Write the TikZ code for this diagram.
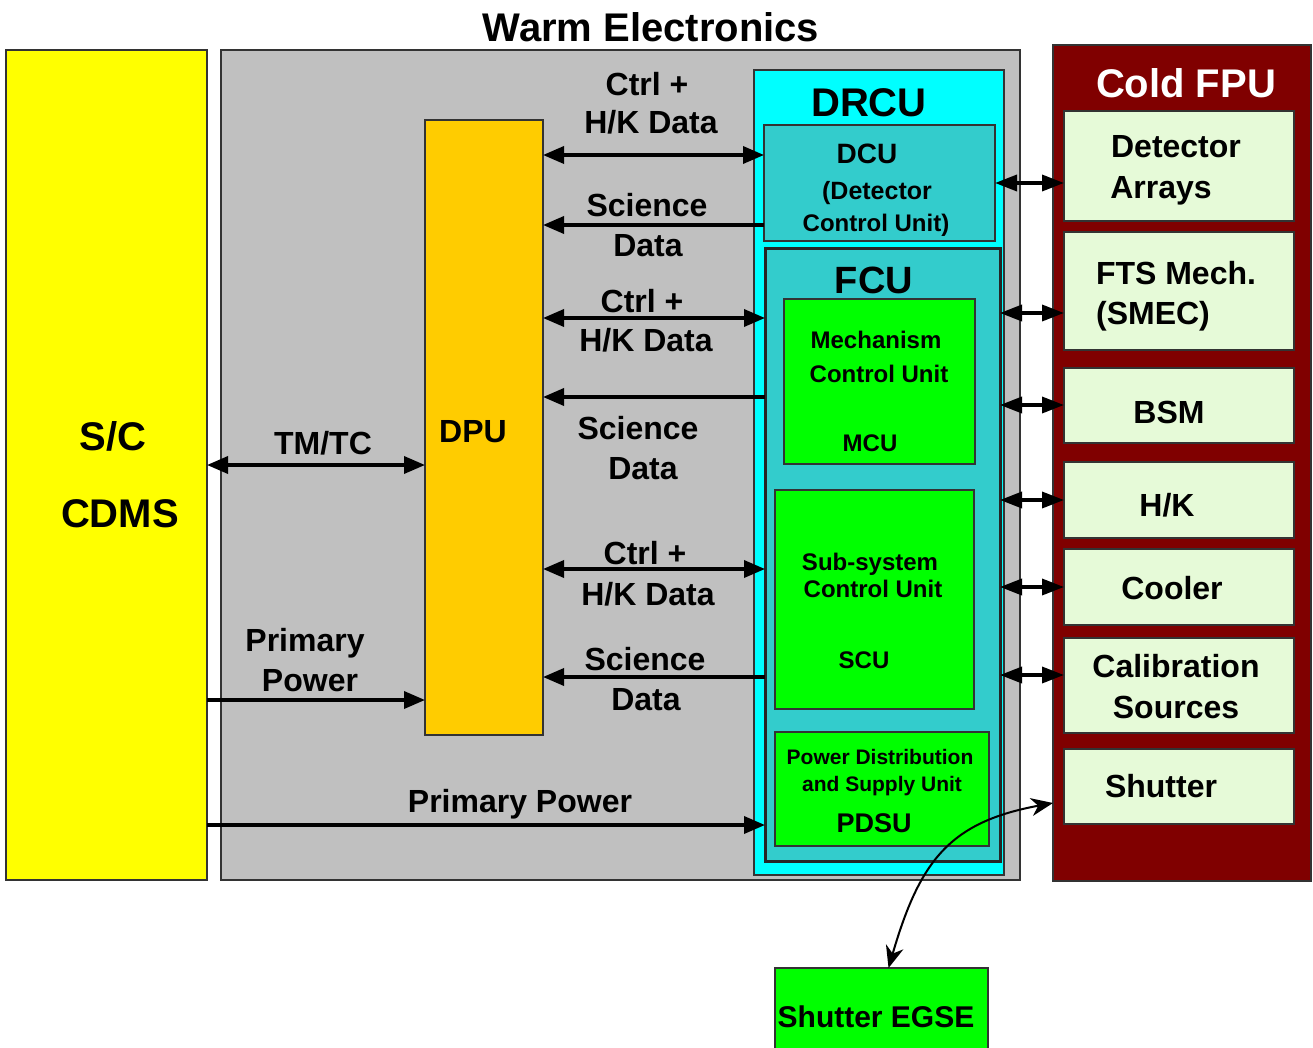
\documentclass[tikz,border=0pt]{standalone}
\usepackage{fontspec}
\setmainfont{Liberation Sans}
\usetikzlibrary{arrows.meta}
\definecolor{scyellow}{HTML}{FFFF00}
\definecolor{warmgray}{HTML}{C0C0C0}
\definecolor{dpuorange}{HTML}{FFCC00}
\definecolor{drcucyan}{HTML}{00FFFF}
\definecolor{teal}{HTML}{33CCCC}
\definecolor{unitgreen}{HTML}{00FF00}
\definecolor{fpured}{HTML}{800000}
\definecolor{palegreen}{HTML}{E6FAD8}
\definecolor{edge}{HTML}{333333}
\begin{document}
\begin{tikzpicture}[x=1pt,y=-1pt,
  blk/.style={anchor=north west, inner sep=0pt, outer sep=0pt, draw=edge, line width=1.2pt},
  lbl/.style={anchor=base, inner sep=0pt, font=\bfseries\fontsize{32}{36}\selectfont},
  big/.style={lbl, font=\bfseries\fontsize{40}{44}\selectfont},
  small/.style={lbl, font=\bfseries\fontsize{24}{28}\selectfont},
  tiny/.style={lbl, font=\bfseries\fontsize{21}{25}\selectfont},
  arr/.style={line width=3.5pt, -{Triangle[length=21pt,width=17pt]}},
  dbl/.style={line width=3.5pt, {Triangle[length=21pt,width=17pt]}-{Triangle[length=21pt,width=17pt]}},
  rdbl/.style={line width=3.5pt, {Triangle[length=22pt,width=16pt]}-{Triangle[length=22pt,width=16pt]}},
  curv/.style={line width=2pt, {Stealth[length=22pt,width=18pt,inset=7pt]}-{Stealth[length=22pt,width=18pt,inset=7pt]}}
]
\fill[white] (0,0) rectangle (1313,1048);
\useasboundingbox (0,0) rectangle (1313,1048);

% main blocks
\node[blk, fill=scyellow, minimum width=201pt, minimum height=830pt] (sc) at (6,50) {};
\node[blk, fill=warmgray, minimum width=799pt, minimum height=830pt] (warm) at (221,50) {};
\node[blk, fill=dpuorange, minimum width=118pt, minimum height=615pt] (dpu) at (425,120) {};
\node[blk, fill=drcucyan, minimum width=250pt, minimum height=805pt] (drcu) at (754,70) {};
\node[blk, fill=teal, minimum width=231pt, minimum height=116pt] (dcu) at (764,125) {};
\node[blk, fill=teal, draw=black!85, line width=3pt, minimum width=235pt, minimum height=612pt] (fcu) at (765,249) {};
\node[blk, fill=unitgreen, minimum width=191pt, minimum height=165pt] (mcu) at (784,299) {};
\node[blk, fill=unitgreen, minimum width=199pt, minimum height=219pt] (scu) at (775,490) {};
\node[blk, fill=unitgreen, minimum width=214pt, minimum height=114pt] (pdsu) at (775,732) {};
\node[blk, fill=fpured, minimum width=258pt, minimum height=836pt] (fpu) at (1053,45) {};
\node[blk, fill=palegreen, minimum width=230pt, minimum height=110pt] (det) at (1064,111) {};
\node[blk, fill=palegreen, minimum width=230pt, minimum height=118pt] (fts) at (1064,232) {};
\node[blk, fill=palegreen, minimum width=230pt, minimum height=75pt] (bsm) at (1064,368) {};
\node[blk, fill=palegreen, minimum width=230pt, minimum height=76pt] (hk) at (1064,462) {};
\node[blk, fill=palegreen, minimum width=230pt, minimum height=76pt] (cool) at (1064,549) {};
\node[blk, fill=palegreen, minimum width=230pt, minimum height=95pt] (cal) at (1064,638) {};
\node[blk, fill=palegreen, minimum width=230pt, minimum height=75pt] (shut) at (1064,749) {};
\node[blk, fill=unitgreen, minimum width=213pt, minimum height=82pt] (egse) at (775,968) {};

% texts
\node[big] (ttitle) at (651,42) {Warm Electronics};
\node[big] (tsc) at (113,450) {S/C};
\node[big] (tcdms) at (120,527) {CDMS};
\node[lbl] (tdpu) at (473,442.5) {DPU};
\node[big] (tdrcu) at (869,117) {DRCU};
\node[lbl, font=\bfseries\fontsize{28}{32}\selectfont] (tdcu) at (867,164) {DCU};
\node[lbl, font=\bfseries\fontsize{25}{29}\selectfont] (tdcu2) at (877,200) {(Detector};
\node[lbl, font=\bfseries\fontsize{24}{28}\selectfont] (tdcu3) at (876,232) {Control Unit)};
\node[lbl, font=\bfseries\fontsize{38}{42}\selectfont] (tfcu) at (874,294) {FCU};
\node[small] (tmcu1) at (876,348.6) {Mechanism};
\node[small] (tmcu2) at (879,382.6) {Control Unit};
\node[small] (tmcu3) at (870,451.6) {MCU};
\node[small] (tscu1) at (870,570.6) {Sub-system};
\node[small] (tscu2) at (873,597.6) {Control Unit};
\node[small] (tscu3) at (864,668.6) {SCU};
\node[tiny] (tpd1) at (880,764.5) {Power Distribution};
\node[tiny] (tpd2) at (882,791.5) {and Supply Unit};
\node[lbl, font=\bfseries\fontsize{27}{31}\selectfont] (tpd3) at (874,832) {PDSU};
\node[big, text=white] (tfpu) at (1186,98) {Cold FPU};
\node[lbl] (tdet1) at (1176,157.5) {Detector};
\node[lbl] (tdet2) at (1161,198.5) {Arrays};
\node[lbl] (tfts1) at (1176,284.5) {FTS Mech.};
\node[lbl] (tfts2) at (1153,324.5) {(SMEC)};
\node[lbl] (tbsm) at (1169,423.5) {BSM};
\node[lbl] (thk) at (1167,516.5) {H/K};
\node[lbl] (tcool) at (1172,599.5) {Cooler};
\node[lbl] (tcal1) at (1176,677.5) {Calibration};
\node[lbl] (tcal2) at (1176,718.5) {Sources};
\node[lbl] (tshut) at (1161,797.5) {Shutter};
\node[lbl, font=\bfseries\fontsize{30}{34}\selectfont] (tegse) at (876,1027) {Shutter EGSE};

\node[lbl] (l1a) at (647,95.5) {Ctrl +};
\node[lbl] (l1b) at (651,133.5) {H/K Data};
\node[lbl] (l2a) at (647,216.5) {Science};
\node[lbl] (l2b) at (648,256.5) {Data};
\node[lbl] (l3a) at (642,312.5) {Ctrl +};
\node[lbl] (l3b) at (646,351.5) {H/K Data};
\node[lbl] (l4a) at (638,439.5) {Science};
\node[lbl] (l4b) at (643,479.5) {Data};
\node[lbl] (l5a) at (645,564.5) {Ctrl +};
\node[lbl] (l5b) at (648,605.5) {H/K Data};
\node[lbl] (l6a) at (645,670.5) {Science};
\node[lbl] (l6b) at (646,710.5) {Data};
\node[lbl] (ltm) at (323,454.5) {TM/TC};
\node[lbl] (lpp1) at (305,651.5) {Primary};
\node[lbl] (lpp2) at (310,691.5) {Power};
\node[lbl] (lpp3) at (520,812.5) {Primary Power};

% connectors DPU <-> DRCU
\draw[dbl] (dpu.east |- 0,155) -- (dcu.west |- 0,155);
\draw[arr] (dcu.west |- 0,225) -- (dpu.east |- 0,225);
\draw[dbl] (dpu.east |- 0,318) -- (fcu.west |- 0,318);
\draw[arr] (fcu.west |- 0,397) -- (dpu.east |- 0,397);
\draw[dbl] (dpu.east |- 0,569) -- (fcu.west |- 0,569);
\draw[arr] (fcu.west |- 0,677) -- (dpu.east |- 0,677);
% S/C connections
\draw[dbl] (sc.east |- 0,465) -- (dpu.west |- 0,465);
\draw[arr] (sc.east |- 0,700) -- (dpu.west |- 0,700);
\draw[arr] (sc.east |- 0,825) -- (fcu.west |- 0,825);
% DRCU <-> Cold FPU
\draw[rdbl] (dcu.east |- 0,183) -- (det.west |- 0,183);
\draw[rdbl] (fcu.east |- 0,313) -- (fts.west |- 0,313);
\draw[rdbl] (fcu.east |- 0,405) -- (bsm.west |- 0,405);
\draw[rdbl] (fcu.east |- 0,500) -- (hk.west |- 0,500);
\draw[rdbl] (fcu.east |- 0,587) -- (cool.west |- 0,587);
\draw[rdbl] (fcu.east |- 0,675) -- (cal.west |- 0,675);
% shutter EGSE
\coordinate (egtop) at ([xshift=7pt]egse.north);
\coordinate (shutin) at (fpu.west |- 0,803);
\draw[curv] (egtop) .. controls (920,860) and (950,822) .. (shutin);
\end{tikzpicture}
\end{document}
